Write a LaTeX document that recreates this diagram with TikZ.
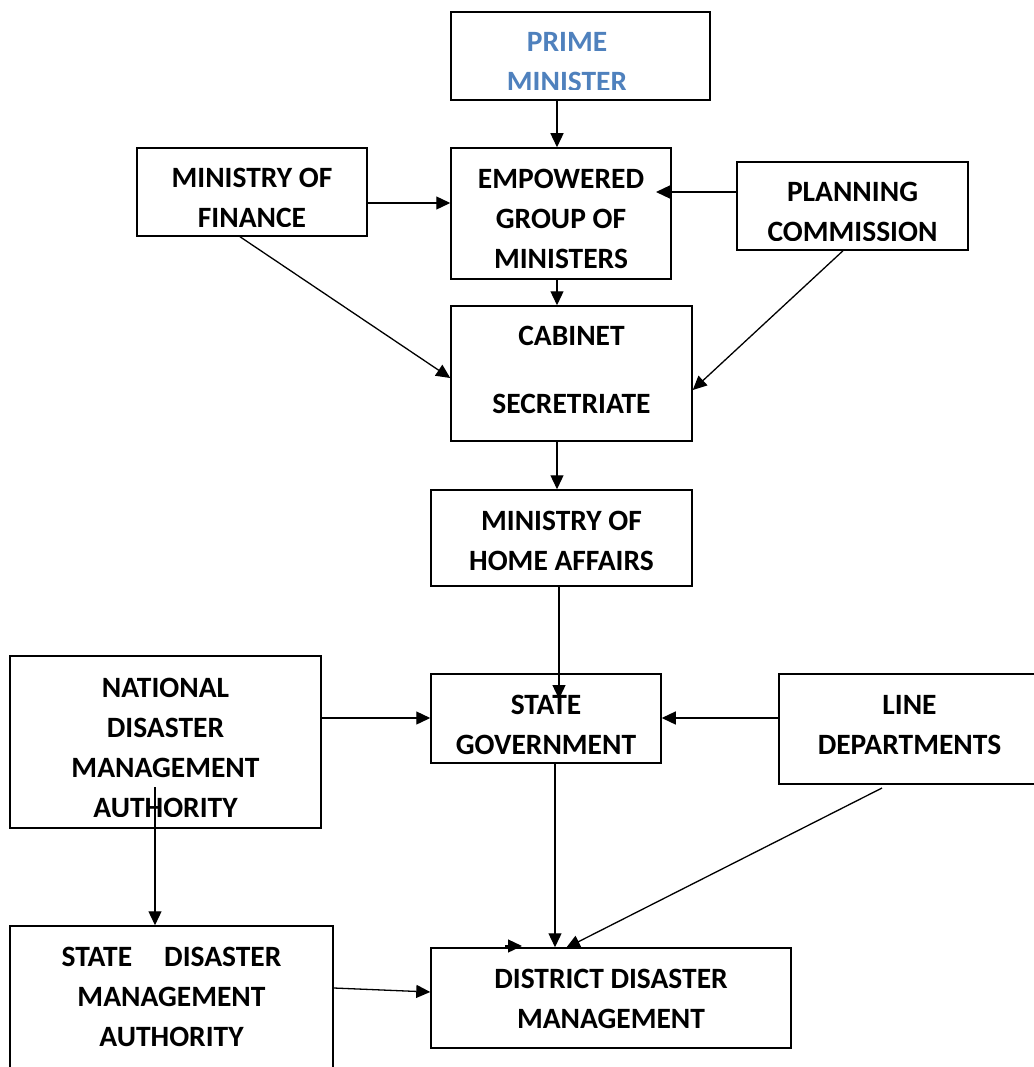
\documentclass[tikz,border=0pt]{standalone}
\usepackage{fontspec}
\setmainfont{Carlito}
\usetikzlibrary{arrows.meta,calc}
\definecolor{pmblue}{HTML}{4F81BD}
\begin{document}
\begin{tikzpicture}[x=1pt,y=-1pt,
  box/.style={draw=black,line width=1.5pt,rectangle,inner sep=0pt},
  txt/.style={align=center,inner sep=0pt,font=\fontsize{29.5}{40}\selectfont\bfseries},
  arr/.style={line width=1.3pt,-{Triangle[length=14pt,width=13pt]}}]
\useasboundingbox (0,0) rectangle (1033,1067);
% boxes
\node[box,minimum width=259pt,minimum height=88pt] (pm) at (580.5,56) {};
\node[box,minimum width=220pt,minimum height=131pt] (egom) at (561,213.5) {};
\node[box,minimum width=230pt,minimum height=88pt] (mof) at (252,192) {};
\node[box,minimum width=231pt,minimum height=88pt] (plan) at (852.5,206) {};
\node[box,minimum width=241pt,minimum height=135pt] (cab) at (571.5,373.5) {};
\node[box,minimum width=261pt,minimum height=96pt] (mha) at (561.5,538) {};
\node[box,minimum width=230pt,minimum height=89pt] (sg) at (546,718.5) {};
\node[box,minimum width=261pt,minimum height=110pt] (ld) at (909.5,729) {};
\node[box,minimum width=311pt,minimum height=172pt] (ndma) at (165.5,742) {};
\node[box,minimum width=323pt,minimum height=149pt] (sdma) at (171.5,1000.5) {};
\node[box,minimum width=360pt,minimum height=100pt] (ddm) at (611,998) {};
% texts (some clipped at the bottom as in the original text boxes)
\begin{scope}
  \clip (pm.north west) rectangle ([yshift=11pt]pm.south east);
  \node[txt,text=pmblue] (pmt) at (567,62) {PRIME\\MINISTER};
\end{scope}
\begin{scope}
  \clip (mof.north west) rectangle ([yshift=10pt]mof.south east);
  \node[txt] (moft) at (252,197.5) {MINISTRY OF\\FINANCE};
\end{scope}
\begin{scope}
  \clip (plan.north west) rectangle ([yshift=10pt]plan.south east);
  \node[txt] (plant) at (852.5,212) {PLANNING\\COMMISSION};
\end{scope}
\begin{scope}
  \clip (ndma.north west) rectangle ([yshift=12pt]ndma.south east);
  \node[txt] (ndmat) at (165.5,747.5) {NATIONAL\\DISASTER\\MANAGEMENT\\AUTHORITY};
\end{scope}
\node[txt] (egomt) at (561,219) {EMPOWERED\\GROUP OF\\MINISTERS};
\node[txt] (cabt) at (571.5,370) {CABINET\\[28pt]SECRETRIATE};
\node[txt] (mhat) at (561.5,540.5) {MINISTRY OF\\HOME AFFAIRS};
\node[txt] (sgt) at (546,724.5) {STATE\\GOVERNMENT};
\node[txt] (ldt) at (909.5,725) {LINE\\DEPARTMENTS};
\node[txt] (sdmat) at (171.5,996.5) {STATE\hspace{32pt}DISASTER\\MANAGEMENT\\AUTHORITY};
\node[txt] (ddmt) at (611,999) {DISTRICT DISASTER\\MANAGEMENT};
% helper coordinates
\coordinate (egomIn) at (656,192);
\coordinate (sgIn) at (559,699);
\coordinate (ndmaIn) at (155,787);
\coordinate (ldOut) at (882,788);
\coordinate (ddmTop) at (566,948);
\coordinate (strayA) at (505,946);
\coordinate (strayB) at (522,946);
% connectors
\draw[arr] (pm.south -| 557,0) -- (egom.north -| 557,0);
\draw[arr] (mof.east |- 0,203) -- (egom.west |- 0,203);
\draw[arr] (plan.west |- egomIn) -- (egomIn);
\draw[arr] (egom.south -| 557,0) -- (cab.north -| 557,0);
\draw[arr] (mof.south -| 240,0) -- (cab.west |- 0,378);
\draw[arr] (plan.south -| 843,0) -- (cab.east |- 0,390);
\draw[arr] (cab.south -| 557,0) -- (mha.north -| 557,0);
\draw[arr] (mha.south -| sgIn) -- (sgIn);
\draw[arr] (ndma.east |- 0,718) -- (sg.west |- 0,718);
\draw[arr] (ld.west |- 0,718) -- (sg.east |- 0,718);
\draw[arr] (sg.south -| 555,0) -- (ddm.north -| 555,0);
\draw[arr] (ldOut) -- (ddmTop);
\draw[arr] (ndmaIn) -- (sdma.north -| ndmaIn);
\draw[arr] (sdma.east |- 0,988) -- (ddm.west |- 0,992);
\draw[arr] (strayA) -- (strayB);
\end{tikzpicture}
\end{document}
